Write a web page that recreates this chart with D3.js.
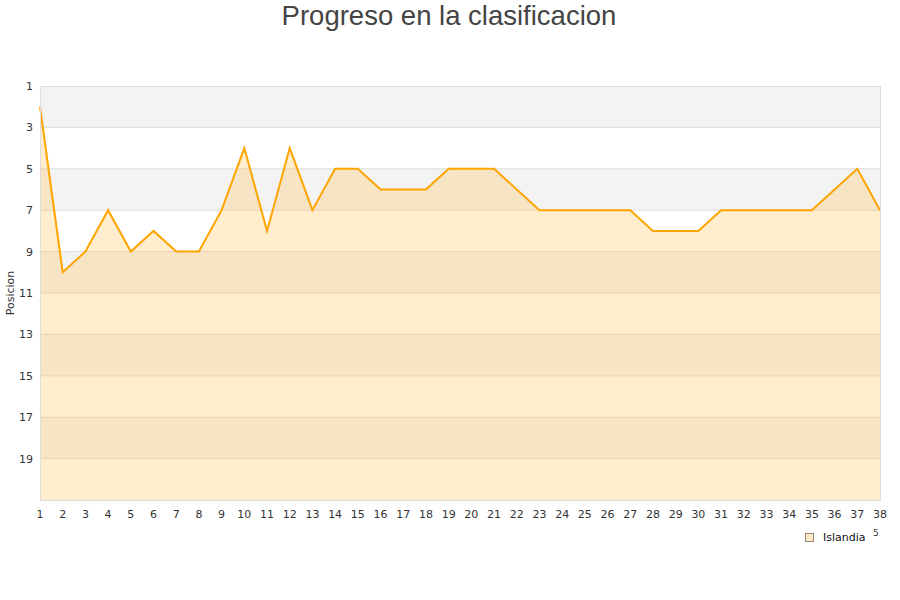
<!DOCTYPE html>
<html><head><meta charset="utf-8">
<script src="https://cdn.jsdelivr.net/npm/d3@7"></script>
<style>body{margin:0;background:#fff}svg{display:block}</style>
</head><body>
<svg id="c" width="900" height="600"></svg>
<script>
const jornadas = d3.range(1, 39);
const posiciones = [2,10,9,7,9,8,9,9,7,4,8,4,7,5,5,6,6,6,5,5,5,6,7,7,7,7,7,8,8,8,7,7,7,7,7,6,5,7];
const yTicks = [1,3,5,7,9,11,13,15,17,19];
const serieNombre = "Islandia";
const titulo = "Progreso en la clasificacion";
const ejeY = "Posicion";

const svg = d3.select("#c");
const m = {l:40, r:880, t:86, b:500};
const x = d3.scaleLinear().domain([1,38]).range([m.l, m.r]);
const y = d3.scaleLinear().domain([1,21]).range([m.t, m.b]);
const font = "DejaVu Sans, sans-serif";

// bands
const bands = d3.range(1, 21, 2);
svg.selectAll("rect.band").data(bands).enter().append("rect")
  .attr("x", m.l).attr("width", m.r-m.l)
  .attr("y", d=>y(d)).attr("height", d=>y(d+2)-y(d))
  .attr("fill", (d,i)=> i%2===0 ? "#f3f3f3" : "#ffffff");

// gridlines
svg.selectAll("line.grid").data(yTicks.slice(1)).enter().append("line")
  .attr("x1", m.l).attr("x2", m.r).attr("y1", d=>y(d)).attr("y2", d=>y(d))
  .attr("stroke", "#dddddd").attr("stroke-width", 1);

// area
const area = d3.area().x((d,i)=>x(jornadas[i])).y0(y(21)).y1(d=>y(d));
svg.append("path").datum(posiciones).attr("d", area)
  .attr("fill", "#ffc04d").attr("fill-opacity", 0.28);
const line = d3.line().x((d,i)=>x(jornadas[i])).y(d=>y(d));
svg.append("path").datum(posiciones).attr("d", line)
  .attr("fill", "none").attr("stroke", "#ffa500").attr("stroke-width", 2)
  .attr("stroke-linejoin", "miter");

// border
svg.append("rect").attr("x", m.l+0.5).attr("y", m.t+0.5)
  .attr("width", m.r-m.l).attr("height", m.b-m.t)
  .attr("fill", "none").attr("stroke", "#dddddd");

// y tick labels
svg.selectAll("text.yt").data(yTicks).enter().append("text")
  .attr("x", 33).attr("y", d=>y(d)+4).attr("text-anchor", "end")
  .attr("font-family", font).attr("font-size", 11).attr("fill", "#333")
  .text(d=>d);
// x tick labels
svg.selectAll("text.xt").data(jornadas).enter().append("text")
  .attr("x", d=>x(d)).attr("y", 518).attr("text-anchor", "middle")
  .attr("font-family", font).attr("font-size", 11).attr("fill", "#333")
  .text(d=>d);

// titles
svg.append("text").attr("x", 449).attr("y", 25).attr("text-anchor", "middle")
  .attr("font-family", "Liberation Sans, Arial, sans-serif").attr("font-size", 27.5)
  .attr("fill", "#444").text(titulo);
svg.append("text").attr("transform", "translate(14,293) rotate(-90)")
  .attr("text-anchor", "middle").attr("font-family", font).attr("font-size", 11)
  .attr("fill", "#333").text(ejeY);

// legend
svg.append("rect").attr("x", 805.5).attr("y", 533.5).attr("width", 8).attr("height", 8)
  .attr("fill", "#fde9c5").attr("stroke", "#9a8a70");
svg.append("text").attr("x", 823).attr("y", 541).attr("font-family", font)
  .attr("font-size", 11).attr("fill", "#111").text(serieNombre);
svg.append("text").attr("x", 873).attr("y", 536).attr("font-family", font)
  .attr("font-size", 9).attr("fill", "#333").text("5");
</script>
</body></html>
